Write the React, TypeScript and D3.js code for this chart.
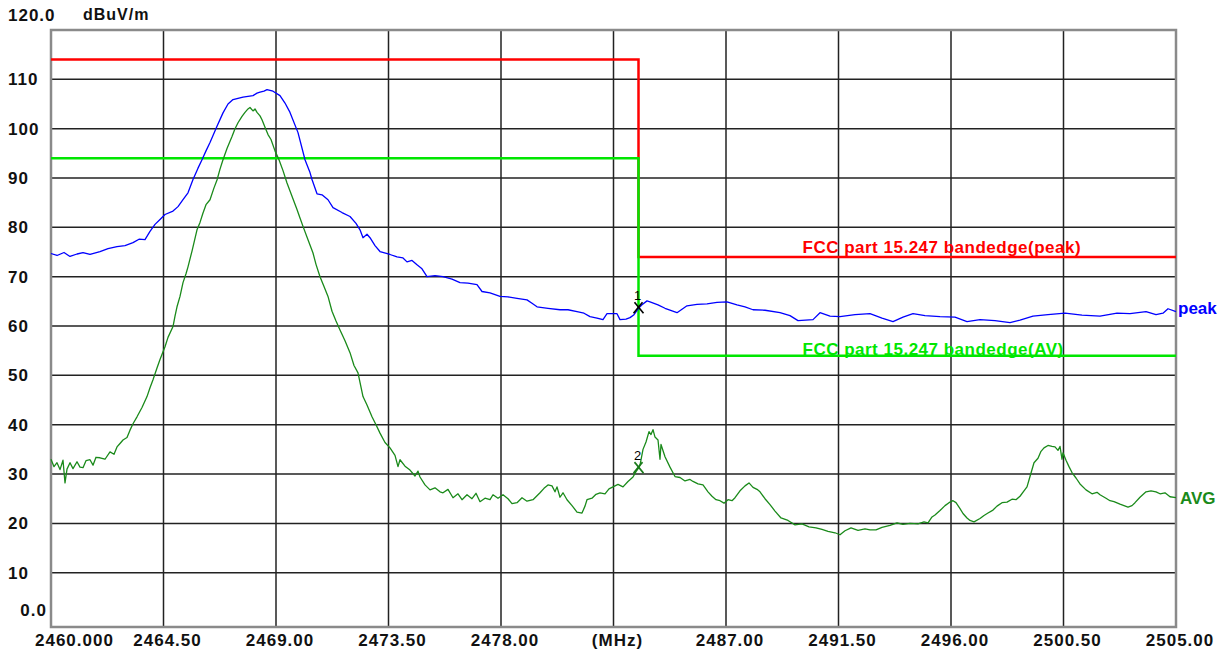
import React from "react";
import * as d3 from "d3";

// Frequency axis (MHz) and level axis (dBuV/m)
const xTickValues = [2460, 2464.5, 2469, 2473.5, 2478, 2482.5, 2487, 2491.5, 2496, 2500.5, 2505];
const xTickLabels = ["2460.000", "2464.50", "2469.00", "2473.50", "2478.00", "(MHz)", "2487.00", "2491.50", "2496.00", "2500.50", "2505.00"];
const yTickValues = [0, 10, 20, 30, 40, 50, 60, 70, 80, 90, 100, 110, 120];
const yTickLabels = ["0.0", "10", "20", "30", "40", "50", "60", "70", "80", "90", "100", "110", "120.0"];

// FCC 15.247 band-edge limits [MHz, dBuV/m]
const peakLimit: [number, number][] = [[2460, 114], [2483.5, 114], [2483.5, 74], [2505, 74]];
const avgLimit: [number, number][] = [[2460, 94], [2483.5, 94], [2483.5, 54], [2505, 54]];

// Peak detector trace [MHz, dBuV/m]
const peakTrace: [number, number][] = [
  [2460.00, 74.7], [2460.24, 74.3], [2460.52, 74.9], [2460.76, 74.1], [2461.04, 74.6], [2461.28, 74.9],
  [2461.56, 74.5], [2461.96, 75.1], [2462.28, 75.7], [2462.64, 76.1], [2462.96, 76.3], [2463.28, 76.9],
  [2463.52, 77.6], [2463.76, 77.5], [2463.96, 79.2], [2464.16, 80.6], [2464.36, 81.6], [2464.56, 82.6],
  [2464.88, 83.3], [2465.08, 84.2], [2465.28, 85.6], [2465.48, 87.0], [2465.68, 89.7], [2465.88, 92.0],
  [2466.04, 93.7], [2466.20, 95.5], [2466.36, 97.2], [2466.64, 100.5], [2466.88, 103.2], [2467.08, 105.0],
  [2467.28, 105.9], [2467.68, 106.4], [2468.08, 106.7], [2468.24, 107.2], [2468.36, 107.4], [2468.52, 107.6],
  [2468.64, 107.9], [2468.88, 107.6], [2469.16, 106.7], [2469.36, 105.2], [2469.56, 103.3], [2469.88, 99.2],
  [2470.16, 93.7], [2470.36, 91.1], [2470.44, 89.7], [2470.64, 86.8], [2470.84, 86.6], [2471.08, 85.6],
  [2471.28, 84.0], [2471.64, 83.0], [2471.96, 82.2], [2472.20, 80.8], [2472.36, 79.5], [2472.48, 77.9],
  [2472.64, 78.6], [2472.76, 77.9], [2472.96, 76.3], [2473.16, 75.1], [2473.56, 74.5], [2473.84, 74.0],
  [2474.08, 73.8], [2474.24, 73.0], [2474.44, 73.3], [2474.64, 72.4], [2474.84, 71.6], [2475.04, 70.0],
  [2475.36, 70.2], [2475.68, 70.0], [2476.04, 69.5], [2476.36, 68.8], [2476.68, 68.7], [2477.04, 68.4],
  [2477.24, 67.0], [2477.56, 66.7], [2477.96, 66.0], [2478.28, 65.9], [2478.64, 65.6], [2479.04, 65.3],
  [2479.24, 64.6], [2479.44, 63.9], [2479.88, 63.6], [2480.36, 63.3], [2480.68, 63.3], [2481.04, 62.9],
  [2481.32, 62.6], [2481.56, 61.9], [2481.84, 61.6], [2482.08, 61.3], [2482.24, 62.5], [2482.64, 62.5],
  [2482.76, 61.3], [2483.00, 61.4], [2483.16, 61.7], [2483.32, 62.3], [2483.50, 63.6], [2483.64, 64.3],
  [2483.84, 65.1], [2483.96, 64.9], [2484.28, 64.3], [2484.56, 63.6], [2485.04, 62.7], [2485.44, 64.1],
  [2485.84, 64.4], [2486.24, 64.5], [2486.64, 64.8], [2487.04, 64.9], [2487.44, 64.3], [2487.76, 63.9],
  [2488.08, 63.3], [2488.56, 63.2], [2489.16, 62.7], [2489.56, 62.1], [2489.88, 61.1], [2490.48, 61.3],
  [2490.76, 62.7], [2491.16, 62.0], [2491.56, 61.9], [2492.16, 62.3], [2492.76, 62.5], [2493.24, 61.6],
  [2493.68, 60.9], [2494.08, 61.8], [2494.48, 62.5], [2494.96, 62.1], [2495.56, 61.9], [2496.16, 61.8],
  [2496.64, 60.9], [2497.16, 61.3], [2497.76, 61.1], [2498.36, 60.7], [2498.76, 61.2], [2499.28, 62.0],
  [2499.88, 62.3], [2500.56, 62.6], [2501.24, 62.2], [2501.96, 62.0], [2502.64, 62.6], [2503.16, 62.5],
  [2503.80, 62.9], [2504.20, 62.3], [2504.48, 62.6], [2504.68, 63.5], [2505.00, 62.9],
];

// Average detector trace [MHz, dBuV/m]
const avgTrace: [number, number][] = [
  [2460.00, 33.0], [2460.12, 31.5], [2460.24, 32.3], [2460.36, 30.9], [2460.48, 32.8], [2460.56, 28.2],
  [2460.64, 31.0], [2460.76, 32.3], [2460.88, 31.1], [2461.04, 32.5], [2461.16, 31.4], [2461.28, 31.3],
  [2461.40, 32.7], [2461.56, 32.9], [2461.68, 31.8], [2461.80, 33.4], [2461.96, 33.3], [2462.16, 33.0],
  [2462.36, 34.5], [2462.52, 34.0], [2462.64, 35.5], [2462.76, 36.2], [2462.88, 36.9], [2463.04, 37.4],
  [2463.16, 38.9], [2463.28, 40.2], [2463.44, 41.6], [2463.64, 43.5], [2463.84, 45.7], [2463.96, 47.5],
  [2464.08, 49.1], [2464.24, 51.5], [2464.36, 53.2], [2464.56, 55.8], [2464.68, 57.7], [2464.88, 59.9],
  [2464.96, 62.0], [2465.04, 63.9], [2465.16, 66.0], [2465.28, 68.8], [2465.40, 70.6], [2465.48, 72.0],
  [2465.64, 75.2], [2465.84, 79.5], [2465.96, 81.0], [2466.08, 82.9], [2466.20, 84.6], [2466.36, 85.6],
  [2466.52, 88.0], [2466.64, 89.6], [2466.76, 91.8], [2466.88, 93.7], [2467.04, 96.0], [2467.24, 98.4],
  [2467.36, 100.0], [2467.48, 101.2], [2467.64, 102.5], [2467.76, 103.3], [2467.88, 104.0], [2467.96, 104.3],
  [2468.08, 103.6], [2468.16, 104.0], [2468.24, 103.3], [2468.36, 102.6], [2468.44, 101.8], [2468.56, 100.3],
  [2468.68, 98.8], [2468.80, 97.8], [2468.96, 95.5], [2469.12, 93.7], [2469.28, 91.5], [2469.44, 89.0],
  [2469.64, 86.3], [2469.84, 83.6], [2469.96, 81.9], [2470.08, 80.2], [2470.28, 77.5], [2470.48, 74.8],
  [2470.60, 72.5], [2470.76, 70.0], [2470.92, 68.0], [2471.08, 66.0], [2471.24, 63.0], [2471.40, 61.0],
  [2471.56, 59.2], [2471.76, 57.0], [2471.96, 54.6], [2472.12, 52.0], [2472.28, 50.5], [2472.40, 47.6],
  [2472.48, 45.7], [2472.64, 44.0], [2472.84, 41.6], [2473.00, 40.0], [2473.16, 38.3], [2473.36, 36.4],
  [2473.56, 35.3], [2473.76, 33.8], [2473.88, 31.5], [2473.96, 32.9], [2474.16, 31.6], [2474.36, 30.8],
  [2474.56, 29.6], [2474.68, 30.6], [2474.76, 29.4], [2474.96, 27.8], [2475.16, 26.8], [2475.36, 27.2],
  [2475.56, 26.4], [2475.68, 26.2], [2475.88, 26.9], [2476.08, 25.2], [2476.28, 26.0], [2476.44, 24.8],
  [2476.64, 25.8], [2476.84, 25.0], [2477.00, 26.1], [2477.16, 24.4], [2477.36, 25.1], [2477.56, 24.8],
  [2477.68, 25.8], [2477.88, 25.1], [2478.08, 25.8], [2478.28, 25.0], [2478.44, 24.0], [2478.64, 24.2],
  [2478.84, 25.2], [2479.04, 24.5], [2479.28, 24.8], [2479.44, 25.6], [2479.56, 26.2], [2479.72, 27.1],
  [2479.88, 27.8], [2480.04, 27.6], [2480.16, 26.4], [2480.24, 27.4], [2480.36, 25.3], [2480.48, 26.2],
  [2480.64, 24.8], [2480.84, 23.6], [2481.04, 22.3], [2481.24, 22.1], [2481.36, 23.5], [2481.44, 24.8],
  [2481.64, 25.1], [2481.80, 25.9], [2481.96, 26.2], [2482.16, 26.0], [2482.32, 27.0], [2482.48, 27.4],
  [2482.68, 27.9], [2482.88, 27.4], [2483.08, 28.5], [2483.28, 29.4], [2483.40, 30.5], [2483.50, 31.2],
  [2483.56, 31.8], [2483.68, 35.0], [2483.80, 36.5], [2483.92, 38.6], [2484.00, 38.0], [2484.08, 39.0],
  [2484.16, 37.5], [2484.28, 36.9], [2484.36, 33.0], [2484.40, 36.0], [2484.56, 33.5], [2484.76, 31.4],
  [2484.96, 29.5], [2485.16, 29.3], [2485.36, 28.6], [2485.56, 28.9], [2485.68, 28.5], [2485.88, 28.0],
  [2486.08, 27.8], [2486.28, 26.4], [2486.44, 25.5], [2486.60, 24.8], [2486.76, 24.6], [2486.92, 24.1],
  [2487.08, 24.8], [2487.24, 24.6], [2487.36, 25.2], [2487.56, 26.6], [2487.76, 27.6], [2487.92, 28.2],
  [2488.08, 27.3], [2488.24, 26.9], [2488.36, 26.4], [2488.56, 25.0], [2488.76, 23.8], [2488.96, 22.5],
  [2489.20, 21.1], [2489.48, 20.6], [2489.76, 19.7], [2490.04, 19.9], [2490.32, 19.3], [2490.60, 19.1],
  [2490.84, 18.8], [2491.08, 18.4], [2491.36, 18.1], [2491.56, 17.7], [2491.76, 18.5], [2492.00, 19.1],
  [2492.28, 18.6], [2492.56, 18.9], [2492.76, 18.7], [2493.00, 18.7], [2493.24, 19.2], [2493.56, 19.6],
  [2493.84, 20.1], [2494.08, 19.8], [2494.36, 20.0], [2494.68, 19.9], [2494.92, 20.3], [2495.08, 20.1],
  [2495.24, 21.3], [2495.36, 21.7], [2495.56, 22.6], [2495.76, 23.6], [2495.92, 24.2], [2496.08, 24.6],
  [2496.20, 24.2], [2496.36, 23.0], [2496.48, 22.0], [2496.64, 21.1], [2496.76, 20.6], [2496.92, 20.3],
  [2497.16, 21.0], [2497.32, 21.6], [2497.48, 22.1], [2497.68, 22.7], [2497.84, 23.5], [2498.04, 24.2],
  [2498.24, 24.3], [2498.44, 24.9], [2498.60, 24.8], [2498.76, 25.5], [2498.92, 26.6], [2499.04, 27.4],
  [2499.16, 29.5], [2499.32, 32.3], [2499.48, 33.2], [2499.60, 34.6], [2499.72, 35.3], [2499.88, 35.8],
  [2500.04, 35.6], [2500.16, 35.5], [2500.28, 34.8], [2500.36, 35.6], [2500.44, 33.0], [2500.48, 34.3],
  [2500.60, 32.8], [2500.72, 31.5], [2500.84, 30.3], [2501.00, 29.2], [2501.16, 28.0], [2501.40, 26.8],
  [2501.64, 26.0], [2501.84, 26.3], [2501.96, 25.8], [2502.20, 25.1], [2502.36, 24.6], [2502.52, 24.4],
  [2502.76, 23.9], [2502.92, 23.6], [2503.08, 23.3], [2503.24, 23.6], [2503.36, 24.2], [2503.56, 25.3],
  [2503.80, 26.4], [2504.00, 26.6], [2504.20, 26.4], [2504.36, 26.0], [2504.56, 26.2], [2504.76, 25.4],
  [2505.00, 25.2],
];

// Markers placed on the traces at the band edge
const markerLabels = ["1", "2"];
const markerFreqs = [2483.5, 2483.5];
const markerLevels = [63.6, 31.2];
const markerColors = ["#000000", "#1a7a1a"];

const W = 1230;
const H = 653;
const left = 51;
const right = 1176;
const top = 30;
const bottom = 627;

const FONT = "'Liberation Sans', Arial, sans-serif";

export default function App() {
  const x = d3.scaleLinear().domain([2460, 2505]).range([left, right]);
  const y = d3.scaleLinear().domain([-1, 120]).range([bottom, top]);
  const line = d3
    .line<[number, number]>()
    .x((d) => x(d[0]))
    .y((d) => y(d[1]));

  const lastPeak = peakTrace[peakTrace.length - 1];
  const lastAvg = avgTrace[avgTrace.length - 1];
  const edgeX = x(peakLimit[1][0]);

  return (
    <svg
      width={W}
      height={H}
      style={{ position: "absolute", left: 0, top: 0, background: "#fff" }}
      fontFamily={FONT}
    >
      <rect x={0} y={0} width={W} height={H} fill="#fff" />

      {/* grid */}
      {yTickValues
        .filter((v) => v > 0 && v < 120)
        .map((v) => (
          <line key={"gy" + v} x1={left} x2={right} y1={y(v)} y2={y(v)} stroke="#222" strokeWidth={1.5} />
        ))}
      {xTickValues.slice(1, -1).map((v) => (
        <line key={"gx" + v} x1={x(v)} x2={x(v)} y1={top} y2={bottom} stroke="#222" strokeWidth={1.5} />
      ))}

      {/* frame */}
      <rect x={left} y={top} width={right - left} height={bottom - top} fill="none" stroke="#8a8a8a" strokeWidth={2.5} />

      {/* limit lines */}
      <path d={line(peakLimit) ?? ""} fill="none" stroke="#ff0000" strokeWidth={2.5} />
      <path d={line(avgLimit) ?? ""} fill="none" stroke="#00e600" strokeWidth={2.5} />

      {/* traces */}
      <path d={line(avgTrace) ?? ""} fill="none" stroke="#1a8a1a" strokeWidth={1.3} strokeLinejoin="round" />
      <path d={line(peakTrace) ?? ""} fill="none" stroke="#0000ff" strokeWidth={1.3} strokeLinejoin="round" />

      {/* markers */}
      {markerLabels.map((m, i) => {
        const mx = x(markerFreqs[i]);
        const my = y(markerLevels[i]);
        return (
          <g key={"m" + m}>
            <line x1={mx - 4} x2={mx + 5} y1={my - 6} y2={my + 5} stroke={markerColors[i]} strokeWidth={1.6} />
            <line x1={mx + 4} x2={mx - 5} y1={my - 6} y2={my + 5} stroke={markerColors[i]} strokeWidth={1.6} />
            <text x={mx - 1} y={my - 8} fontSize={13} textAnchor="middle" fill="#000">
              {m}
            </text>
          </g>
        );
      })}

      {/* limit captions */}
      <text x={edgeX + 164} y={y(74) - 4} fill="#ff0000" fontSize={17} fontWeight="bold" letterSpacing={0.5}>
        FCC part 15.247 bandedge(peak)
      </text>
      <text x={edgeX + 164} y={y(54) - 1} fill="#00e600" fontSize={17} fontWeight="bold" letterSpacing={0.5}>
        FCC part 15.247 bandedge(AV)
      </text>

      {/* trace names */}
      <text x={right + 2} y={y(lastPeak[1]) + 2} fill="#0000ff" fontSize={17} fontWeight="bold">
        peak
      </text>
      <text x={right + 4} y={y(lastAvg[1]) + 6} fill="#1a8a1a" fontSize={17} fontWeight="bold">
        AVG
      </text>

      {/* y axis labels */}
      {yTickValues.map((v, i) => {
        const label = yTickLabels[i];
        if (v === 120) {
          return (
            <text key={"yl" + v} x={8} y={21} fontSize={17} fontWeight="bold" letterSpacing={1} fill="#111">
              {label}
            </text>
          );
        }
        if (v === 0) {
          return (
            <text key={"yl" + v} x={47} y={616} textAnchor="end" fontSize={17} fontWeight="bold" letterSpacing={1} fill="#111">
              {label}
            </text>
          );
        }
        return (
          <text key={"yl" + v} x={8} y={y(v) + 6} fontSize={17} fontWeight="bold" letterSpacing={1} fill="#111">
            {label}
          </text>
        );
      })}
      <text x={83} y={20} fontSize={16} fontWeight="bold" letterSpacing={1} fill="#111">
        dBuV/m
      </text>

      {/* x axis labels */}
      {xTickValues.map((v, i) =>
        i === 0 ? (
          <text key={"xl" + v} x={x(v) - 16} y={646} fontSize={17} fontWeight="bold" letterSpacing={1} fill="#111">
            {xTickLabels[i]}
          </text>
        ) : (
          <text key={"xl" + v} x={x(v) + 4} y={646} textAnchor="middle" fontSize={17} fontWeight="bold" letterSpacing={1} fill="#111">
            {xTickLabels[i]}
          </text>
        )
      )}
    </svg>
  );
}
